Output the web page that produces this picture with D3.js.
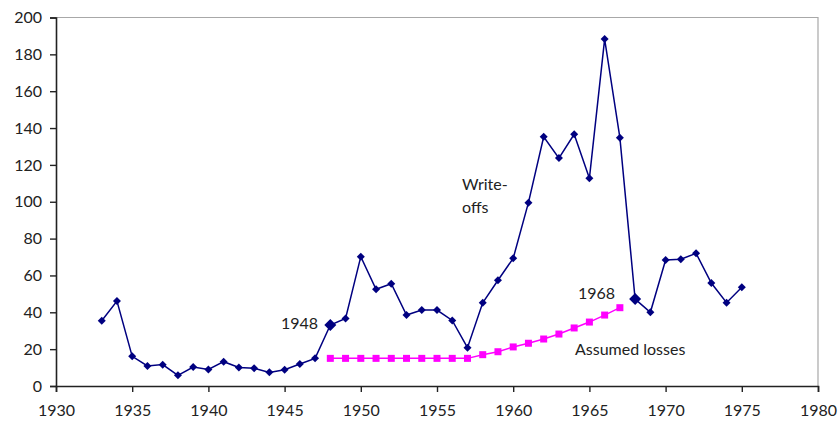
<!DOCTYPE html>
<html>
<head>
<meta charset="utf-8">
<script src="https://cdn.jsdelivr.net/npm/d3@7"></script>
<style>
  body { margin: 0; background: #fff; }
  text { font-family: "Lato", "DejaVu Sans", sans-serif; fill: #222; }
</style>
</head>
<body>
<div id="chart"></div>
<script>
// Write-offs, 1933-1975
const writeOffYears = d3.range(1933, 1976);
const writeOffs = [35.4, 46.1, 16.1, 10.9, 11.6, 5.8, 10.3, 9.0, 13.2, 10.1,
  9.6, 7.4, 8.8, 11.9, 15.0, 33.1, 36.7, 70.2, 52.5, 55.5,
  38.5, 41.2, 41.2, 35.6, 20.8, 45.2, 57.4, 69.3, 99.5, 135.3,
  123.7, 136.6, 112.7, 188.3, 134.8, 47.2, 40.0, 68.4, 68.8, 72.0,
  55.9, 45.2, 53.6];

// Assumed losses, 1948-1967
const lossYears = d3.range(1948, 1968);
const assumedLosses = [15.0, 15.0, 15.0, 15.0, 15.0, 15.0, 15.0, 15.0, 15.0, 15.0,
  17.0, 18.6, 21.2, 23.2, 25.5, 28.2, 31.5, 34.7, 38.5, 42.5];

const highlightYears = [1948, 1968];
const xTicks = [1930, 1935, 1940, 1945, 1950, 1955, 1960, 1965, 1970, 1975, 1980];
const yTicks = [0, 20, 40, 60, 80, 100, 120, 140, 160, 180, 200];

const width = 838, height = 424;
const margin = { top: 17.5, right: 20, bottom: 38, left: 56 };

const svg = d3.select("#chart").append("svg")
  .attr("width", width).attr("height", height);

const x = d3.scaleLinear().domain([1930, 1980]).range([margin.left, width - margin.right]);
const y = d3.scaleLinear().domain([0, 200]).range([height - margin.bottom, margin.top]);

// grey frame top and right
svg.append("path")
  .attr("d", `M${x(1930)},${y(200)}H${x(1980)}V${y(0)}`)
  .attr("fill", "none").attr("stroke", "#a8a8a8").attr("stroke-width", 1.2);

const yAxis = svg.append("g")
  .attr("transform", `translate(${margin.left},0)`)
  .call(d3.axisLeft(y).tickValues(yTicks).tickSize(6).tickPadding(8));
const xAxis = svg.append("g")
  .attr("transform", `translate(0,${y(0)})`)
  .call(d3.axisBottom(x).tickValues(xTicks).tickFormat(d3.format("d")).tickSize(6).tickPadding(13));

[yAxis, xAxis].forEach(g => {
  g.select(".domain").attr("stroke", "#222").attr("stroke-width", 1.6);
  g.selectAll(".tick line").attr("stroke", "#222").attr("stroke-width", 1.4);
  g.selectAll(".tick text").attr("font-size", 16).attr("font-family", "Lato, sans-serif").attr("fill", "#222");
});

const wData = writeOffYears.map((yr, i) => ({ year: yr, value: writeOffs[i] }));
const lData = lossYears.map((yr, i) => ({ year: yr, value: assumedLosses[i] }));

const line = d3.line().x(d => x(d.year)).y(d => y(d.value));

svg.append("path").datum(lData)
  .attr("d", line).attr("fill", "none").attr("stroke", "#ff00ff").attr("stroke-width", 1.5);
svg.selectAll(".sq").data(lData).join("rect")
  .attr("class", "sq")
  .attr("x", d => x(d.year) - 3.5).attr("y", d => y(d.value) - 3.5)
  .attr("width", 7).attr("height", 7).attr("fill", "#ff00ff");

svg.append("path").datum(wData)
  .attr("d", line).attr("fill", "none").attr("stroke", "#000080").attr("stroke-width", 1.5);
const diamond = s => `M0,${-s}L${s},0L0,${s}L${-s},0Z`;
svg.selectAll(".dm").data(wData).join("path")
  .attr("class", "dm")
  .attr("transform", d => `translate(${x(d.year)},${y(d.value)})`)
  .attr("d", d => diamond(highlightYears.includes(d.year) ? 6 : 4))
  .attr("fill", "#000080");

// annotations
const ann = svg.append("g").attr("font-size", 16);
ann.append("text").attr("x", 462).attr("y", 190).text("Write-");
ann.append("text").attr("x", 462).attr("y", 213).text("offs");
ann.append("text").attr("x", 318).attr("y", 329).attr("text-anchor", "end").text("1948");
ann.append("text").attr("x", 615).attr("y", 299).attr("text-anchor", "end").text("1968");
ann.append("text").attr("x", 575).attr("y", 355).text("Assumed losses");
</script>
</body>
</html>
